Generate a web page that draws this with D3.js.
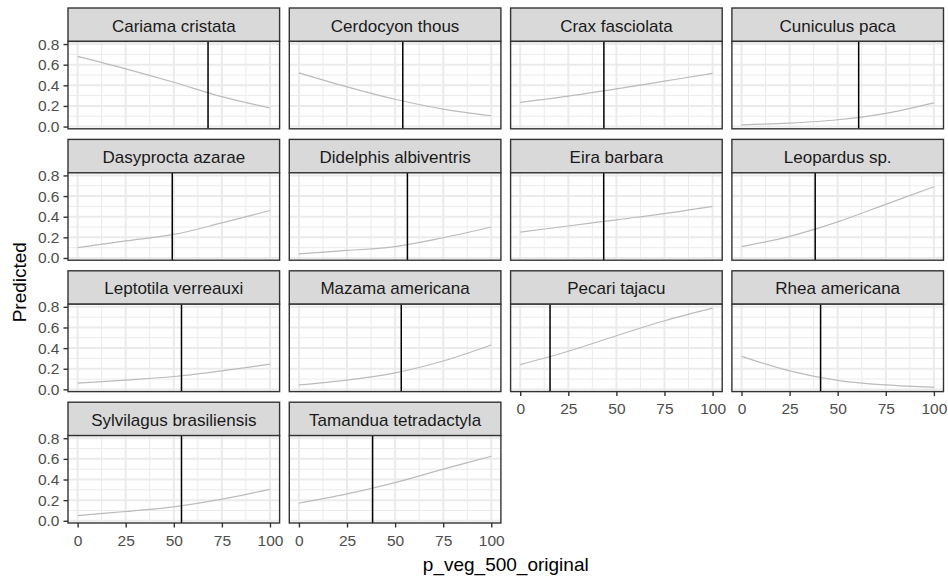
<!DOCTYPE html>
<html>
<head>
<meta charset="utf-8">
<script src="https://cdn.jsdelivr.net/npm/d3@7"></script>
<style>
  body { margin: 0; background: #fff; }
  svg { display: block; font-family: "Liberation Sans", Arial, sans-serif; }
</style>
</head>
<body>
<svg id="chart" width="948" height="582"></svg>
<script>
// species shown in each facet, in facet order
const species = [
    "Cariama cristata", "Cerdocyon thous", "Crax fasciolata", "Cuniculus paca",
    "Dasyprocta azarae", "Didelphis albiventris", "Eira barbara", "Leopardus sp.",
    "Leptotila verreauxi", "Mazama americana", "Pecari tajacu", "Rhea americana",
    "Sylvilagus brasiliensis", "Tamandua tetradactyla"
];

// x positions where the predicted curve was read
const vegValues = [0, 25, 50, 75, 100];

// predicted probability at each vegValues point, one row per species
const predicted = [
    [0.68, 0.56, 0.43, 0.29, 0.18],
    [0.52, 0.385, 0.265, 0.17, 0.105],
    [0.235, 0.295, 0.365, 0.44, 0.515],
    [0.017, 0.034, 0.066, 0.128, 0.23],
    [0.10, 0.165, 0.228, 0.34, 0.46],
    [0.04, 0.073, 0.11, 0.196, 0.30],
    [0.25, 0.31, 0.37, 0.43, 0.50],
    [0.11, 0.21, 0.35, 0.52, 0.69],
    [0.06, 0.09, 0.125, 0.18, 0.245],
    [0.043, 0.09, 0.16, 0.275, 0.43],
    [0.24, 0.37, 0.52, 0.665, 0.787],
    [0.32, 0.18, 0.088, 0.043, 0.02],
    [0.05, 0.09, 0.135, 0.21, 0.305],
    [0.17, 0.26, 0.37, 0.50, 0.625]
];

// vertical reference line (mean vegetation) per species
const meanVeg = [67.8, 54.0, 43.5, 60.9, 49.2, 56.4, 43.4, 38.3, 54.0, 53.2, 15.5, 41.1, 54.0, 38.3];

const xTicks = [0, 25, 50, 75, 100];
const xMinor = [12.5, 37.5, 62.5, 87.5];
const yTicks = [0, 0.2, 0.4, 0.6, 0.8];
const yMinor = [0.1, 0.3, 0.5, 0.7];

// layout
const ncol = 4;
const left0 = 68, colStep = 221.3, panelW = 211.6;
const top0 = 8, rowStep = 131.4, stripH = 33.4, panelH = 87.4;
const nrow = Math.ceil(species.length / ncol);

const svg = d3.select("#chart");

// shared scales (5% expansion like ggplot)
const x = d3.scaleLinear().domain([-5, 105]).range([0, panelW]);
const allY = predicted.flat();
const yMin = d3.min(allY), yMax = d3.max(allY);
const pad = (yMax - yMin) * 0.05;
const y = d3.scaleLinear().domain([yMin - pad, yMax + pad]).range([panelH, 0]);

const line = d3.line()
    .x((d, i) => x(vegValues[i]))
    .y(d => y(d))
    .curve(d3.curveCatmullRom);

species.forEach((name, k) => {
    const col = k % ncol, row = Math.floor(k / ncol);
    const px = left0 + col * colStep;
    const sy = top0 + row * rowStep;
    const py = sy + stripH;

    // strip
    const strip = svg.append("g").attr("transform", `translate(${px},${sy})`);
    strip.append("rect")
        .attr("width", panelW).attr("height", stripH)
        .attr("fill", "#D9D9D9").attr("stroke", "#333333").attr("stroke-width", 1.4);
    strip.append("text")
        .attr("x", panelW / 2).attr("y", stripH / 2 + 7)
        .attr("text-anchor", "middle")
        .attr("font-size", "17px")
        .attr("fill", "#1A1A1A")
        .text(name);

    const g = svg.append("g").attr("transform", `translate(${px},${py})`);
    g.append("rect").attr("width", panelW).attr("height", panelH).attr("fill", "#fff");

    // grid
    g.selectAll(".gxm").data(xMinor).enter().append("line")
        .attr("x1", d => x(d)).attr("x2", d => x(d)).attr("y1", 0).attr("y2", panelH)
        .attr("stroke", "#EBEBEB").attr("stroke-width", 1);
    g.selectAll(".gym").data(yMinor).enter().append("line")
        .attr("y1", d => y(d)).attr("y2", d => y(d)).attr("x1", 0).attr("x2", panelW)
        .attr("stroke", "#EBEBEB").attr("stroke-width", 1);
    g.selectAll(".gx").data(xTicks).enter().append("line")
        .attr("x1", d => x(d)).attr("x2", d => x(d)).attr("y1", 0).attr("y2", panelH)
        .attr("stroke", "#EBEBEB").attr("stroke-width", 2);
    g.selectAll(".gy").data(yTicks).enter().append("line")
        .attr("y1", d => y(d)).attr("y2", d => y(d)).attr("x1", 0).attr("x2", panelW)
        .attr("stroke", "#EBEBEB").attr("stroke-width", 2);

    // predicted curve
    g.append("path")
        .datum(predicted[k])
        .attr("d", line)
        .attr("fill", "none")
        .attr("stroke", "#BBBBBB")
        .attr("stroke-width", 1.2);

    // mean line
    g.append("line")
        .attr("x1", x(meanVeg[k])).attr("x2", x(meanVeg[k]))
        .attr("y1", 0).attr("y2", panelH)
        .attr("stroke", "#000").attr("stroke-width", 1.5);

    g.append("rect").attr("width", panelW).attr("height", panelH)
        .attr("fill", "none").attr("stroke", "#333333").attr("stroke-width", 1.4);

    // y axis on first column
    if (col === 0) {
        const ya = g.append("g")
            .call(d3.axisLeft(y).tickValues(yTicks).tickFormat(d3.format(".1f"))
                .tickSize(4.5).tickPadding(4));
        ya.select(".domain").remove();
        ya.selectAll("line").attr("stroke", "#333333").attr("stroke-width", 1.4);
        ya.selectAll("text").attr("fill", "#4D4D4D").attr("font-size", "15.5px")
            .attr("font-family", "Liberation Sans, Arial, sans-serif");
    }

    // x axis where no panel sits below
    if (k + ncol >= species.length) {
        const xa = g.append("g").attr("transform", `translate(0,${panelH})`)
            .call(d3.axisBottom(x).tickValues(xTicks).tickSize(4.5).tickPadding(7));
        xa.select(".domain").remove();
        xa.selectAll("line").attr("stroke", "#333333").attr("stroke-width", 1.4);
        xa.selectAll("text").attr("fill", "#4D4D4D").attr("font-size", "15.5px")
            .attr("font-family", "Liberation Sans, Arial, sans-serif");
    }
});

// axis titles
const plotLeft = left0, plotRight = left0 + (ncol - 1) * colStep + panelW;
svg.append("text")
    .attr("x", (plotLeft + plotRight) / 2).attr("y", 571)
    .attr("text-anchor", "middle")
    .attr("font-size", "19px")
    .attr("fill", "#000")
    .text("p_veg_500_original");

const plotTop = top0 + stripH, plotBottom = top0 + (nrow - 1) * rowStep + stripH + panelH;
svg.append("text")
    .attr("transform", `translate(26,${(plotTop + plotBottom) / 2}) rotate(-90)`)
    .attr("text-anchor", "middle")
    .attr("font-size", "19px")
    .attr("fill", "#000")
    .text("Predicted");
</script>
</body>
</html>
